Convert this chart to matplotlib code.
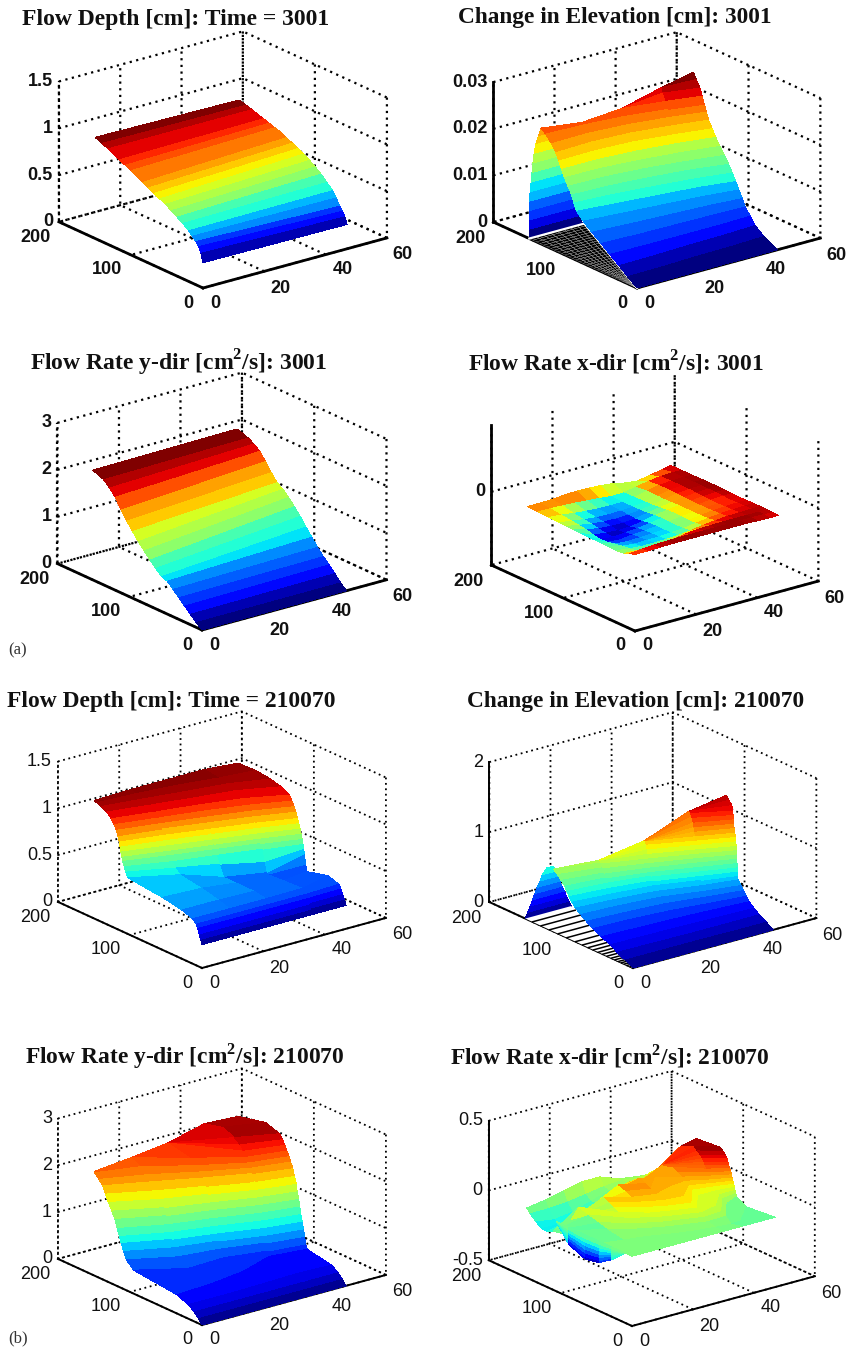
import numpy as np
import matplotlib
matplotlib.use('Agg')
import matplotlib.pyplot as plt
from matplotlib.colors import Normalize
from mpl_toolkits.mplot3d import proj3d

plt.rcParams['mathtext.fontset'] = 'custom'
plt.rcParams['mathtext.bf'] = 'Liberation Serif:bold'
plt.rcParams['mathtext.rm'] = 'Liberation Serif:bold'

# ---------- data ----------
xticks = [0, 20, 40, 60]
yticks = [0, 100, 200]

a1_y = [0, 3, 6, 10, 15, 20, 28, 36, 44, 52, 60, 68, 76, 84, 92, 100, 108, 116, 124, 132, 140, 150]
a1_x = [0, 47]
a1_z = [[.27, .26], [.36, .33], [.42, .38], [.46, .42], [.50, .49], [.54, .55], [.59, .61], [.63, .67],
        [.67, .72], [.71, .76], [.74, .80], [.77, .83], [.80, .86], [.83, .89], [.87, .92], [.90, .94],
        [.93, .96], [.96, .98], [.99, 1.0], [1.02, 1.02], [1.05, 1.04], [1.08, 1.06]]

# height levels and, per column of x, the y at which each level is reached
a2_x = [0, 12, 24, 36, 46]
a2_levels = [0, .0015, .003, .0045, .006, .0075, .009, .0105, .012, .0135, .015, .0165, .018, .0195, .021,
             .0225, .024, .0255, .027, .0285, .03]
a2_top_y = [134, 128, 124, 120, 117]
a2_top_z = [.0248, .0243, .0254, .028, .0298]
a2_y = [[0, 0, 0, 0, 0], [13, 14, 16, 17, 19], [25, 26, 28, 29, 31], [38, 37, 37, 37, 38], [50, 48, 47, 46, 45],
        [63, 59, 56, 53, 49], [75, 70, 65, 60, 54], [84, 78, 72, 66, 58], [88, 84, 78, 71, 63],
        [91, 89, 84, 77, 68], [96, 95, 90, 82, 74], [101, 100, 95, 88, 80], [105, 105, 101, 94, 86],
        [109, 110, 107, 99, 91], [113, 115, 112, 104, 96], [119, 120, 116, 108, 99], [127, 125, 120, 111, 102],
        [134, 128, 124, 114, 105], [134, 128, 124, 118, 108], [134, 128, 124, 120, 113], [134, 128, 124, 120, 117]]
a2_face_z = [0, .002, .004, .006, .008, .01, .012, .014, .016, .018, .02, .0215, .0229]
a2_face_xl = [0, 0, 0, 0, 0, .3, .6, .9, 1.2, 1.6, 2.2, 3, 3.8]
a2_face_xr = [17.4, 16.4, 15.4, 14.3, 13, 12, 11.2, 10.4, 9.3, 8.1, 6.9, 5.4, 3.8]
a2_hatch_y = [0, 5, 10, 15, 20, 25, 30, 35, 40, 45, 50, 55, 60, 65, 70, 75, 80, 85, 90, 95, 100, 105, 110, 115,
              120, 125, 130, 135, 140, 145, 150]
a2_hatch_f = [0, .125, .25, .375, .5, .625, .75, .875, 1]

a3_y = [0, 8, 16, 24, 32, 40, 48, 56, 64, 72, 80, 88, 96, 104, 112, 120, 128, 136, 144, 152]
a3_x = [0, 47]
a3_z = [[0, 0], [.1, .11], [.22, .25], [.34, .38], [.46, .5], [.58, .64], [.7, .8], [.74, .96],
        [.86, 1.13], [.98, 1.28], [1.12, 1.42], [1.26, 1.54], [1.42, 1.62], [1.58, 1.78], [1.76, 1.96],
        [1.98, 2.12], [2.12, 2.22], [2.24, 2.29], [2.3, 2.34], [2.33, 2.37]]

a4_y = [0, 8, 15, 25, 35, 45, 55, 65, 75, 85, 95, 105, 120, 135, 150]
a4_x = [0, 4, 8, 12, 16, 20, 24, 28, 32, 36, 40, 44, 47]
a4_z = [[.05, .05, .055, .06, .06, .06, .06, .06, .06, .06, .055, .05, .05],
        [.02, .035, .05, .055, .06, .06, .06, .06, .06, .06, .06, .055, .05],
        [-.01, -.02, -.03, -.02, 0, .03, .05, .055, .06, .06, .06, .06, .055],
        [-.02, -.04, -.055, -.055, -.05, -.04, -.02, .01, .03, .045, .05, .055, .055],
        [-.015, -.05, -.07, -.065, -.06, -.05, -.035, -.01, .015, .035, .045, .05, .055],
        [-.01, -.07, -.08, -.075, -.065, -.055, -.04, -.015, .01, .03, .04, .05, .05],
        [-.01, -.09, -.105, -.08, -.07, -.055, -.035, -.01, .01, .025, .035, .045, .05],
        [-.01, -.1, -.115, -.1, -.085, -.06, -.03, -.005, .01, .025, .04, .05, .055],
        [-.01, -.08, -.105, -.115, -.11, -.08, -.04, -.01, .01, .03, .045, .055, .06],
        [-.005, -.05, -.085, -.1, -.105, -.09, -.055, -.02, .005, .03, .05, .06, .06],
        [0, -.035, -.065, -.085, -.09, -.08, -.06, -.03, 0, .035, .055, .06, .06],
        [.005, -.02, -.05, -.07, -.075, -.07, -.06, -.035, .005, .04, .055, .06, .06],
        [.01, -.005, -.03, -.05, -.06, -.065, -.065, -.04, .005, .04, .055, .06, .055],
        [.02, .015, .01, 0, -.015, -.03, -.05, -.045, -.01, .025, .05, .06, .055],
        [.025, .025, .03, .045, .055, .05, .04, .02, -.02, -.04, -.01, .03, .055]]

b1_x = [0, 12, 24, 36, 47]
b1_levels = [.25, .30, .35, .40, .44, .48, .52, .56, .60, .65, .70, .75, .80, .85, .90, .95, 1.0, 1.05, 1.1,
             1.15, 1.2, 1.23, 1.25, 1.27]
b1_top_y = [150, 150, 150, 150, 150]
b1_top_z = [1.26, 1.27, 1.27, 1.27, 1.24]
b1_y = [[0, 0, 0, 0, 0], [2, 2, 2, 2, 2], [4, 4, 4, 4, 4.5], [6, 6, 6, 6, 7], [8, 8, 8, 8, 10],
        [13, 13, 13, 14, 25], [28, 28, 30, 40, 54], [55, 52, 55, 60, 56], [103, 82, 72, 64, 58],
        [106, 88, 78, 67, 59], [108, 93, 82, 70, 60], [110, 97, 85, 73, 61], [111.5, 99, 87, 75, 62.5],
        [113, 101, 89, 77, 64], [114, 103, 91, 79, 66], [115, 105, 93, 81, 67.5], [117, 107, 95, 83, 69.5],
        [119, 109, 98, 86, 72], [122, 112, 102, 90, 75], [126, 116, 107, 96, 79], [132, 123, 114, 106, 90],
        [140, 133, 125, 118, 105], [146, 143, 138, 130, 125], [150, 150, 150, 150, 150]]
# rows where the surface dips below its level (the dark wedge behind the front step)
b1_dip_rows = [6, 7, 8, 9]
b1_dip_z = [[.52, .52, .50, .47, .42], [.56, .56, .50, .46, .48], [.60, .60, .50, .47, .60], [.65, .65, .62, .58, .65]]

b2_x = [0, 12, 24, 36, 46]
b2_levels = [0, .06, .12, .18, .24, .3, .36, .42, .48, .54, .6, .66, .72, .78, .84, .9, .96, 1.02, 1.08, 1.14,
             1.2, 1.26, 1.32, 1.38, 1.44, 1.5, 1.56, 1.62]
b2_top_y = [111, 99, 87, 76, 66]
b2_top_z = [.89, .93, 1.12, 1.45, 1.61]
b2_y = [[0, 0, 0, 0, 0], [11, 11, 11, 10, 10], [22, 21, 20, 20, 20], [32, 31, 30, 28, 27], [44, 42, 40, 37, 34],
        [56, 54, 50, 43, 38], [65, 62, 58, 49, 42], [73, 70, 65, 53, 45], [80, 76, 70, 57, 49.5],
        [85, 80, 74, 60, 50], [89, 84, 76, 62, 50.3], [92, 87, 78, 63, 50.6], [95, 90, 79, 64, 51],
        [100, 92, 80, 65, 51.3], [105, 95, 81, 65.5, 51.6], [111, 97, 82, 66, 51.8], [111, 99, 83, 66.5, 52],
        [111, 99, 84, 67, 53], [111, 99, 85.5, 67.5, 53.5], [111, 99, 87, 68, 54], [111, 99, 87, 69, 55],
        [111, 99, 87, 70, 55.5], [111, 99, 87, 71, 56], [111, 99, 87, 73, 56.5], [111, 99, 87, 75, 57],
        [111, 99, 87, 76, 58], [111, 99, 87, 76, 62], [111, 99, 87, 76, 66]]
b2_face_z = [0, .08, .16, .24, .32, .40, .48, .56, .64]
b2_face_xl = [0, .8, 1.6, 2.4, 3.1, 3.9, 4.9, 5.6, 7]
b2_face_xr = [15, 14.2, 13.5, 12.8, 12, 11.3, 10.6, 9.9, 9.2]
b2_hatch_y = [140, 128, 116, 104, 92, 80, 70, 62, 55, 48, 42, 36, 30, 25, 20, 16, 12, 8, 4]

b3_x = [0, 12, 24, 36, 47]
b3_levels = [0, .1, .2, .3, .4, .5, .65, .8, .95, 1.1, 1.25, 1.4, 1.55, 1.7, 1.85, 2.0, 2.1, 2.2, 2.3, 2.4, 2.5,
             2.6, 2.7]
b3_top_y = [150, 150, 150, 150, 150]
b3_top_z = [2.22, 2.3, 2.4, 2.6, 2.56]
b3_y = [[0, 0, 0, 0, 0], [5, 5, 5, 5, 5], [11, 11, 11, 11, 11], [19, 19, 20, 22, 20], [35, 38, 45, 60, 54],
        [95, 70, 72, 62, 56], [105, 84, 77, 65, 57.5], [109, 90, 80, 67, 59], [112, 94, 83, 69, 61],
        [115, 96.5, 85, 71, 63], [118, 99, 87.5, 73, 64.5], [121, 102, 90, 75, 66], [125, 105, 92, 77, 68],
        [130, 109, 94, 79, 69], [134, 114, 97, 81, 72], [138, 120, 101, 84, 74], [143, 127, 105, 86, 77],
        [149, 137, 110, 88, 79], [150, 150, 118, 91, 82], [150, 150, 150, 95, 85], [150, 150, 150, 100, 88],
        [150, 150, 150, 108, 92], [150, 150, 150, 125, 112]]

b4_x = [0, 6, 12, 18, 24, 30, 36, 42, 47]
b4_levels = [0, 0, .02, .04, .06, .08, .10, .12, .14, .16, .18, .20, .22, .24, .26, .28, .30, .32]
b4_top_y = [110, 110, 110, 110, 110, 110, 110, 110, 110]
b4_top_z = [-.08, -.03, .02, .07, .12, .12, .18, .28, .305]
b4_y = [[0, 0, 0, 0, 0, 0, 0, 0, 0], [40, 35, 30, 22, 16, 12, 15, 27, 40],
        [110, 58, 44, 34, 27, 21, 22, 46, 54], [110, 70, 52, 40, 33, 26, 28, 52, 55],
        [110, 85, 60, 46, 38, 31, 36, 56, 56], [110, 100, 68, 52, 44, 37, 60, 60, 57],
        [110, 110, 75, 60, 50, 44, 68, 63, 58], [110, 110, 82, 68, 58, 55, 73, 65, 59],
        [110, 110, 90, 75, 68, 75, 78, 67, 60], [110, 110, 110, 84, 76, 95, 82, 70, 61],
        [110, 110, 110, 95, 84, 110, 88, 72, 62], [110, 110, 110, 110, 92, 110, 95, 74, 64],
        [110, 110, 110, 110, 110, 110, 110, 76, 65], [110, 110, 110, 110, 110, 110, 110, 78, 66],
        [110, 110, 110, 110, 110, 110, 110, 80, 67], [110, 110, 110, 110, 110, 110, 110, 83, 69],
        [110, 110, 110, 110, 110, 110, 110, 87, 72], [110, 110, 110, 110, 110, 110, 110, 92, 78]]
b4_flat_z = [0, 0, 0, 0, 0, 0, -.02, -.06, -.02]
b4_back_y = [110, 118, 126, 134, 142, 147]
b4_back_z = [[-.08, -.03, .02, .07, .12, .12, .18, .28, .305],
             [-.1, -.07, -.03, .02, .07, .08, .13, .23, .25],
             [-.1, -.1, -.07, -.03, .02, .04, .08, .16, .17],
             [-.07, -.09, -.07, -.03, .01, .03, .05, .09, .09],
             [-.03, -.03, -.02, 0, .02, .03, .02, .03, .03],
             [0, .02, .05, .08, .08, .03, .01, 0, 0]]
b4_wall_y = [9, 28, 46, 65, 88, 106]
b4_wall_bottom = [0, -.09, -.155, -.175, -.125, 0]
b4_wall_frac = [0, .15, .3, .45, .6, .75, .9, 1]

titles = ['Flow Depth [cm]: Time = 3001', 'Change in Elevation [cm]: 3001',
          r'Flow Rate y-dir [cm$^{\mathbf{2}}$/s]: 3001', r'Flow Rate x-dir [cm$^{\mathbf{2}}$/s]: 3001',
          'Flow Depth [cm]: Time = 210070', 'Change in Elevation [cm]: 210070',
          r'Flow Rate y-dir [cm$^{\mathbf{2}}$/s]: 210070', r'Flow Rate x-dir [cm$^{\mathbf{2}}$/s]: 210070']
zlims = [(0, 1.5), (0, .03), (0, 3), (-1.1, 1), (0, 1.5), (0, 2), (0, 3), (-.5, .5)]
zticks = [[0, .5, 1, 1.5], [0, .01, .02, .03], [0, 1, 2, 3], [0], [0, .5, 1, 1.5], [0, 1, 2], [0, 1, 2, 3], [-.5, 0, .5]]
zlabels = [['0', '0.5', '1', '1.5'], ['0', '0.01', '0.02', '0.03'], ['0', '1', '2', '3'], ['0'],
           ['0', '0.5', '1', '1.5'], ['0', '1', '2'], ['0', '1', '2', '3'], ['-0.5', '0', '0.5']]

# ---------- layout (pixels in the 849x1350 picture) ----------
W, H = 849, 1350
fronts = [(203, 288), (637, 288), (202, 630), (635, 631), (202, 968), (633, 968), (202, 1325), (632, 1326)]
widths = [328, 327, 329, 327, 328, 327, 328, 326]
title_boxes = [(22, 330, 20), (458, 773, 18), (30, 328, 363), (468, 765, 363),
               (7, 337, 702), (467, 805, 702), (25, 345, 1056), (450, 770, 1056)]
xlabel_shift = [(12, -15), (16, -17), (17, -15), (16, -17)]
ylabel_shift = [(-15, -15), (-24, -15), (-23, -16)]
zlabel_shift = (-6, 0)
ELEV, AZIM = 20.7, -127.6
BOX = (232, 236, 150)

fig = plt.figure(figsize=(W / 100, H / 100), dpi=100)


def corner(ax, p):
    x2, y2, _ = proj3d.proj_transform(p[0], p[1], p[2], ax.get_proj())
    return ax.transData.transform((x2, y2))


def tick_text(ax, x, y, z, s, shift, weight, ha='center'):
    p = corner(ax, (x, y, z))
    fig.text((p[0] + shift[0]) / W, (p[1] + shift[1]) / H, s, fontsize=13, fontweight=weight,
             family='Liberation Sans', ha=ha, va='center', color='#111111')


def make_axes(i):
    S = 560
    ax = fig.add_axes([0.1, 0.1, S / W, S / H], projection='3d')
    ax.set_proj_type('ortho')
    ax.view_init(elev=ELEV, azim=AZIM)
    ax.computed_zorder = False
    ax.set_facecolor('none')
    ax.set_xlim(0, 60, view_margin=0)
    ax.set_ylim(0, 200, view_margin=0)
    ax.set_zlim(*zlims[i], view_margin=0)
    ax.set_box_aspect(BOX, zoom=1)
    ax.apply_aspect()
    zl = zlims[i][0]
    w = corner(ax, (60, 0, zl))[0] - corner(ax, (0, 200, zl))[0]
    ax.set_box_aspect(BOX, zoom=widths[i] / w)
    f = corner(ax, (0, 0, zl))
    dx = fronts[i][0] - f[0]
    dy = (H - fronts[i][1]) - f[1]
    pos = ax.get_position(original=True)
    ax.set_position([pos.x0 + dx / W, pos.y0 + dy / H, pos.width, pos.height])
    ax.apply_aspect()

    thick = 2.0 if i < 4 else 1.4
    gridw = 1.6 if i < 4 else 1.3
    weight = 'bold' if i < 4 else 'normal'
    ax.set_xticks(xticks)
    ax.set_yticks(yticks)
    ax.set_zticks(zticks[i])
    ax.tick_params(axis='both', labelbottom=False, labelleft=False)
    ax.xaxis.set_major_formatter(plt.NullFormatter())
    ax.yaxis.set_major_formatter(plt.NullFormatter())
    ax.zaxis.set_major_formatter(plt.NullFormatter())
    for v, sh in zip(xticks, xlabel_shift):
        tick_text(ax, v, 0, zl, str(v), sh, weight)
    for v, sh in zip(yticks, ylabel_shift):
        tick_text(ax, 0, v, zl, str(v), sh, weight)
    for v, s in zip(zticks[i], zlabels[i]):
        tick_text(ax, 0, 200, v, s, zlabel_shift, weight, ha='right')
    dots = (0, (1.0, 2.0))
    for axis in (ax.xaxis, ax.yaxis, ax.zaxis):
        axis.pane.set_visible(False)
        axis._axinfo['grid'].update(color='k', linestyle=dots, linewidth=gridw)
        axis._axinfo['tick'].update(inward_factor=0.02, outward_factor=0.0)
        axis.line.set_color('k')
        axis.line.set_linewidth(thick)
    if i in (0, 2, 4, 6):
        ax.zaxis.line.set_linestyle(dots)
        ax.zaxis.line.set_linewidth(gridw)
    return ax


def surf(ax, X, Y, Z, norm, cmap='jet', z=3):
    ax.plot_surface(np.asarray(X, float), np.asarray(Y, float), np.asarray(Z, float), cmap=cmap, norm=norm,
                    rstride=1, cstride=1, shade=False, linewidth=0, antialiased=False, zorder=z)


def grid_of(xs, ys):
    return np.meshgrid(np.asarray(xs, float), np.asarray(ys, float))


def level_mesh(xs, levels, ys, top_y, top_z):
    """Mesh whose rows follow height levels; beyond the top edge a column keeps its edge height."""
    Y = np.vstack([np.asarray(ys, float), np.asarray(top_y, float)])
    X = np.tile(np.asarray(xs, float), (Y.shape[0], 1))
    Z = np.tile(np.append(levels, 0.0)[:, None], (1, len(xs)))
    tops = Y >= np.asarray(top_y, float)
    Z = np.where(tops, np.tile(np.asarray(top_z, float), (Y.shape[0], 1)), Z)
    return X, Y, Z


jet_a = plt.get_cmap('jet', 24)
axes = [make_axes(i) for i in range(8)]

# (a) top left
X, Y = grid_of(a1_x, a1_y)
surf(axes[0], X, Y, a1_z, Normalize(.26, 1.08), jet_a)

# (a) top right: ridge, its back face and the uncovered triangle
ax = axes[1]
nrm = Normalize(0, .0298)
fz = np.array(a2_face_z)
surf(ax, np.column_stack([a2_face_xl, a2_face_xr]), np.full((len(fz), 2), 150.0), np.column_stack([fz, fz]), nrm, jet_a, z=2)
HX = np.outer(np.array(a2_hatch_y) * 18 / 150, a2_hatch_f)
HY = np.outer(a2_hatch_y, np.ones(len(a2_hatch_f)))
ax.plot_surface(HX, HY, np.zeros_like(HX), color='k', edgecolor='#dddddd', linewidth=0.15, shade=False, rstride=1, cstride=1, zorder=3)
ax.plot([0, 18, 0], [150, 150, 0], [0, 0, 0], color='white', lw=1.6, zorder=3.5)
X, Y, Z = level_mesh(a2_x, a2_levels, a2_y, a2_top_y, a2_top_z)
surf(ax, X, Y, Z, nrm, jet_a, z=4)

# (a) second row
X, Y = grid_of(a3_x, a3_y)
surf(axes[2], X, Y, a3_z, Normalize(0, 2.37), jet_a)
X, Y = grid_of(a4_x, a4_y)
surf(axes[3], X, Y, a4_z, Normalize(-.12, .065))

# (b) first row
X, Y, Z = level_mesh(b1_x, b1_levels, b1_y, b1_top_y, b1_top_z)
for r, row in zip(b1_dip_rows, b1_dip_z):
    Z[r] = row
surf(axes[4], X, Y, Z, Normalize(.25, 1.27))

ax = axes[5]
nrm = Normalize(0, 1.61)
fz = np.array(b2_face_z)
surf(ax, np.column_stack([b2_face_xl, b2_face_xr]), np.full((len(fz), 2), 150.0), np.column_stack([fz, fz]), nrm, z=2)
hf = np.array([0, 1.0])
hy = np.array([0, 150.0])
ax.plot_surface(np.outer(hy * 15 / 150, hf), np.outer(hy, np.ones(2)), np.zeros((2, 2)), color='white', shade=False, linewidth=0, zorder=3)
for v in b2_hatch_y:
    ax.plot([0, v * 15 / 150], [v, v], [0, 0], color='k', lw=1.1, zorder=3.5)
X, Y, Z = level_mesh(b2_x, b2_levels, b2_y, b2_top_y, b2_top_z)
surf(ax, X, Y, Z, nrm, z=4)

# (b) second row
X, Y, Z = level_mesh(b3_x, b3_levels, b3_y, b3_top_y, b3_top_z)
surf(axes[6], X, Y, Z, Normalize(0, 2.74))

ax = axes[7]
nrm = Normalize(-.33, .33)
X, Y = grid_of(b4_x, b4_back_y)
surf(ax, X, Y, b4_back_z, nrm, z=2)
X, Y, Z = level_mesh(b4_x, b4_levels, b4_y, b4_top_y, b4_top_z)
Z[1] = b4_flat_z
surf(ax, X, Y, Z, nrm, z=3)
wy, wb = np.array(b4_wall_y, float), np.array(b4_wall_bottom)
wf = np.array(b4_wall_frac)
surf(ax, np.zeros((len(wf), len(wy))), np.tile(wy, (len(wf), 1)), np.outer(wf, wb), Normalize(-.18, .18), z=4)

# titles fitted to their measured widths
fig.canvas.draw()
rend = fig.canvas.get_renderer()
for t, (x0, x1, yc) in zip(titles, title_boxes):
    txt = fig.text(x0 / W, 1 - yc / H, t, family='Liberation Serif', fontweight='bold', fontsize=15, va='center', ha='left', color='#111111')
    w = txt.get_window_extent(rend).width
    txt.set_fontsize(15 * (x1 - x0) / w)

fig.text(8 / W, 1 - 650 / H, '(a)', family='Liberation Serif', fontsize=12, va='center', color='#333333')
fig.text(8 / W, 1 - 1338 / H, '(b)', family='Liberation Serif', fontsize=12, va='center', color='#333333')

fig.savefig('out.png', dpi=100)
